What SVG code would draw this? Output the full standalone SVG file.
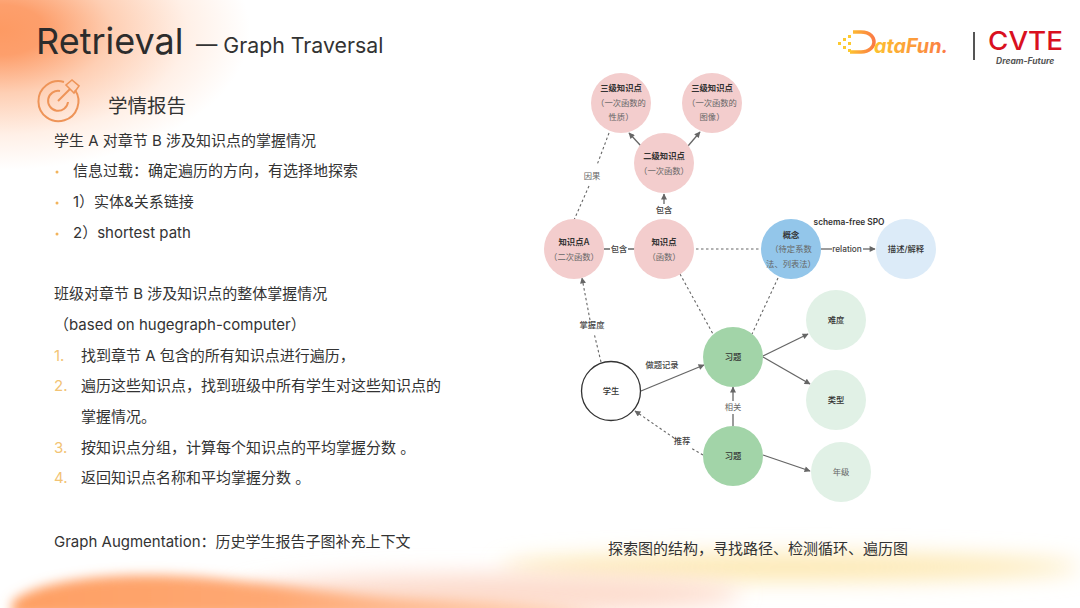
<svg xmlns="http://www.w3.org/2000/svg" width="1080" height="608" viewBox="0 0 1080 608">
<defs>
<style>
text{font-family:"Inter","Noto Sans CJK SC","Noto Sans",sans-serif}
.b{font-size:15px;fill:#333}
.h{font-size:8.300px;fill:#333;text-anchor:middle;font-weight:600}
.m{font-size:8.300px;fill:#333;text-anchor:middle;font-weight:500}
.s{font-size:8.300px;fill:#666;text-anchor:middle}
.l{font-size:8.300px;fill:#444;text-anchor:middle;font-weight:500}
.solid{fill:none;stroke:#666;stroke-width:1.300}
.dash{fill:none;stroke:#666;stroke-width:1.100;stroke-dasharray:2.500 2.500}
</style>
<marker id="ar" viewBox="0 0 10 10" refX="9" refY="5" markerWidth="7" markerHeight="6" markerUnits="userSpaceOnUse" orient="auto"><path d="M0 0L10 5L0 10z" fill="#666"/></marker>
<radialGradient id="tl" gradientUnits="userSpaceOnUse" cx="0" cy="0" r="1" gradientTransform="translate(0 30) scale(250 140)"><stop offset="0" stop-color="#fd9a63"/><stop offset=".18" stop-color="#fd9f6c"/><stop offset=".45" stop-color="#fecfb4"/><stop offset=".75" stop-color="#fff0e7"/><stop offset="1" stop-color="#fff"/></radialGradient>
<linearGradient id="logoY" x1="0" x2="1" y1="0" y2="0"><stop offset="0" stop-color="#fdc22f"/><stop offset="1" stop-color="#fb7a45"/></linearGradient>
<linearGradient id="org" gradientUnits="userSpaceOnUse" x1="10" x2="600" y1="0" y2="0"><stop offset="0" stop-color="#fe9f63"/><stop offset=".45" stop-color="#fea873"/><stop offset="1" stop-color="#fed4b8"/></linearGradient>
<filter id="bl" x="-20%" y="-100%" width="140%" height="300%"><feGaussianBlur stdDeviation="6"/></filter>
<filter id="bl2" x="-20%" y="-200%" width="140%" height="500%"><feGaussianBlur stdDeviation="11"/></filter>
</defs>
<rect width="1080" height="608" fill="#fff"/>
<g id="background">
<rect x="0" y="0" width="250" height="170" fill="url(#tl)"/>
<ellipse cx="790" cy="567" rx="290" ry="13" fill="#fde7ae" filter="url(#bl2)"/>
<ellipse cx="490" cy="594" rx="250" ry="20" fill="#fddccd" filter="url(#bl2)"/>
<path d="M12 602C40 578 120 572 200 577C280 584 340 596 420 599C500 602 560 605 610 616H12Z" fill="url(#org)" filter="url(#bl)"/>
</g>
<g id="title">
<text x="36" y="54" font-size="36" fill="#2c2c2c">Retrieval</text>
<text x="196" y="53" font-size="21.300" fill="#333">— Graph Traversal</text>
</g>
<g id="logos">
<path d="M853 32h8c10 0 13 6 13 10s-4 10-13 10h-11" fill="none" stroke="url(#logoY)" stroke-width="3.500"/>
<g fill="#fdc92f"><rect x="838" y="42" width="3" height="3"/><rect x="843" y="38" width="3" height="3"/><rect x="843" y="46" width="3" height="3"/><rect x="848" y="35" width="3" height="3"/><rect x="848" y="42" width="3" height="3"/><rect x="848" y="49" width="3" height="3"/></g>
<text x="874" y="53" font-size="20" font-weight="700" font-style="italic" fill="url(#logoY)" textLength="74" lengthAdjust="spacingAndGlyphs">ataFun.</text>
<rect x="973" y="32" width="2" height="28" fill="#555"/>
<text x="988" y="50" font-size="26" font-weight="500" fill="#d9101f" textLength="75" lengthAdjust="spacingAndGlyphs">CVTE</text>
<text x="996" y="64" font-size="8.500" font-weight="700" font-style="italic" fill="#555">Dream-Future</text>
</g>
<g id="heading">
<g fill="none" stroke="#ee9458" stroke-width="2"><path d="M75 90A20 20 0 1 1 64 82"/><path d="M68 102A10 10 0 1 1 60 91"/><path d="M58 101L70 89"/><path d="M70 89L66 85L72 80L79 86L74 93Z" stroke-width="1.600"/></g>
<text x="108" y="113" font-size="19.500" fill="#333">学情报告</text>
</g>
<g id="left-text">
<text x="54" y="146" class="b">学生 A 对章节 B 涉及知识点的掌握情况</text>
<g fill="#f2b45c"><circle cx="57" cy="172" r="1.500"/><circle cx="57" cy="203" r="1.500"/><circle cx="57" cy="234" r="1.500"/></g>
<text x="73" y="176" class="b">信息过载：确定遍历的方向，有选择地探索</text>
<text x="73" y="207" class="b">1）实体&amp;关系链接</text>
<text x="73" y="238" class="b">2）shortest path</text>
<text x="54" y="299" class="b">班级对章节 B 涉及知识点的整体掌握情况</text>
<text x="54" y="330" class="b">（based on hugegraph-computer）</text>
<g font-size="15" fill="#f2c374"><text x="54" y="361">1.</text><text x="54" y="391">2.</text><text x="54" y="453">3.</text><text x="54" y="483">4.</text></g>
<text x="81" y="361" class="b">找到章节 A 包含的所有知识点进行遍历，</text>
<text x="81" y="391" class="b">遍历这些知识点，找到班级中所有学生对这些知识点的</text>
<text x="81" y="422" class="b">掌握情况。</text>
<text x="81" y="453" class="b">按知识点分组，计算每个知识点的平均掌握分数 。</text>
<text x="81" y="483" class="b">返回知识点名称和平均掌握分数 。</text>
<text x="54" y="547" class="b">Graph Augmentation：历史学生报告子图补充上下文</text>
<text x="608" y="554" class="b">探索图的结构，寻找路径、检测循环、遍历图</text>
</g>
<g id="connectors">
<path class="solid" d="M641 146L629 133" marker-end="url(#ar)"/>
<path class="solid" d="M688 146L700 132" marker-end="url(#ar)"/>
<path class="solid" d="M664 204L664 194" marker-end="url(#ar)"/>
<path class="solid" d="M604 249H610M628 249H635"/>
<path class="dash" d="M696 249L761 249"/>
<path class="dash" d="M609 133L597 165M589 186L574 220"/>
<path class="solid" d="M821 249H832"/>
<path class="solid" d="M863 249H875" marker-end="url(#ar)"/>
<path class="dash" d="M680 274L713 334"/>
<path class="dash" d="M778 278L752 334"/>
<path class="dash" d="M601 362L594 333M590 320L582 278" marker-end="url(#ar)"/>
<path class="solid" d="M641 391L704 365" marker-end="url(#ar)"/>
<path class="solid" d="M733 426V414"/>
<path class="solid" d="M733 401V387" marker-end="url(#ar)"/>
<path class="dash" d="M703 455L691 448M674 438L635 411" marker-end="url(#ar)"/>
<path class="solid" d="M763 356L808 334" marker-end="url(#ar)"/>
<path class="solid" d="M763 357L810 384" marker-end="url(#ar)"/>
<path class="solid" d="M763 455L810 471" marker-end="url(#ar)"/>
</g>
<g id="n1"><circle cx="621" cy="103" r="30" fill="#f3cdcd"/><text x="621" y="91" class="h">三级知识点</text><text x="621" y="106" class="s">（一次函数的</text><text x="621" y="120" class="s">性质）</text></g>
<g id="n2"><circle cx="712" cy="103" r="30" fill="#f3cdcd"/><text x="712" y="91" class="h">三级知识点</text><text x="712" y="106" class="s">（一次函数的</text><text x="712" y="120" class="s">图像）</text></g>
<g id="n3"><circle cx="664" cy="163" r="30" fill="#f3cdcd"/><text x="664" y="159" class="h">二级知识点</text><text x="664" y="174" class="s">（一次函数）</text></g>
<g id="n4"><circle cx="574" cy="249" r="30" fill="#f3cdcd"/><text x="574" y="245" class="h">知识点A</text><text x="574" y="260" class="s">（二次函数）</text></g>
<g id="n5"><circle cx="664" cy="249" r="30" fill="#f3cdcd"/><text x="664" y="245" class="h">知识点</text><text x="664" y="260" class="s">（函数）</text></g>
<g id="n6"><circle cx="791" cy="249" r="30" fill="#93c6ea"/><text x="791" y="238" class="h">概念</text><text x="791" y="252" class="s">（待定系数</text><text x="791" y="267" class="s">法、列表法）</text></g>
<g id="n7"><circle cx="906" cy="249" r="30" fill="#dcebf8"/><text x="906" y="252" class="m">描述/解释</text></g>
<g id="n8"><circle cx="836" cy="320" r="30" fill="#e1f1e6"/><text x="836" y="323" class="m">难度</text></g>
<g id="n9"><circle cx="836" cy="400" r="30" fill="#e1f1e6"/><text x="836" y="403" class="m">类型</text></g>
<g id="n10"><circle cx="841" cy="472" r="30" fill="#e1f1e6"/><text x="841" y="475" class="s">年级</text></g>
<g id="n11"><circle cx="733" cy="357" r="30" fill="#a2d4a8"/><text x="733" y="360" class="m">习题</text></g>
<g id="n12"><circle cx="733" cy="456" r="30" fill="#a2d4a8"/><text x="733" y="459" class="m">习题</text></g>
<g id="n13"><circle cx="611" cy="391" r="29.500" fill="#fff" stroke="#333" stroke-width="1.300"/><text x="611" y="394" class="m">学生</text></g>
<g id="labels">
<text x="592" y="179" class="s">因果</text>
<text x="664" y="213" class="l">包含</text>
<text x="619" y="252" class="l">包含</text>
<text x="847" y="252" class="l">relation</text>
<text x="849" y="225" class="h">schema-free SPO</text>
<text x="592" y="328" class="l">掌握度</text>
<text x="662" y="368" class="l">做题记录</text>
<text x="733" y="410" class="s">相关</text>
<text x="682" y="444" class="l">推荐</text>
</g>
</svg>
